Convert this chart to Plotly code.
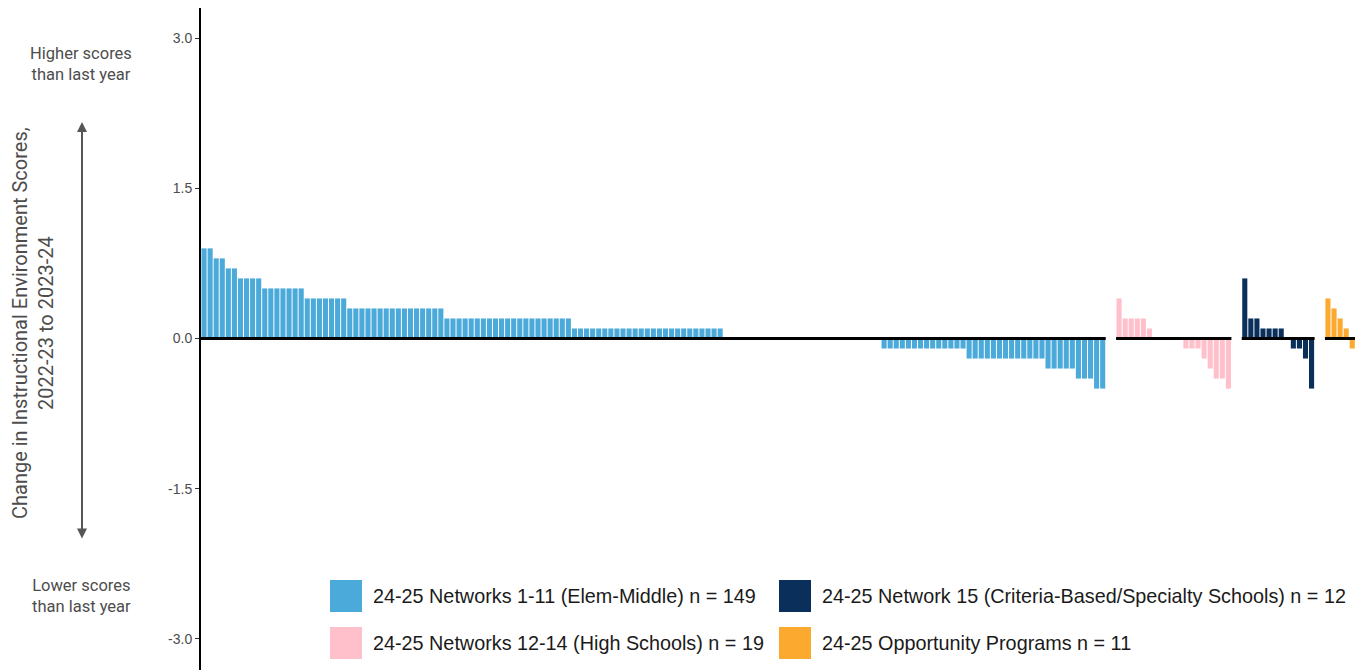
import plotly.graph_objects as go

# ---------------- data ----------------
group_names = [
    "24-25 Networks 1-11 (Elem-Middle) n = 149",
    "24-25 Networks 12-14 (High Schools) n = 19",
    "24-25 Network 15 (Criteria-Based/Specialty Schools) n = 12",
    "24-25 Opportunity Programs n = 11",
]
group_colors = ["#4BAAD9", "#FFC0CB", "#0B2F5B", "#FBAA2F"]

networks_1_11 = [
    0.9, 0.9, 0.8, 0.8, 0.7, 0.7, 0.6, 0.6, 0.6, 0.6,
    0.5, 0.5, 0.5, 0.5, 0.5, 0.5, 0.5,
    0.4, 0.4, 0.4, 0.4, 0.4, 0.4, 0.4,
    0.3, 0.3, 0.3, 0.3, 0.3, 0.3, 0.3, 0.3, 0.3, 0.3, 0.3, 0.3, 0.3, 0.3, 0.3, 0.3,
    0.2, 0.2, 0.2, 0.2, 0.2, 0.2, 0.2, 0.2, 0.2, 0.2, 0.2, 0.2, 0.2, 0.2, 0.2, 0.2,
    0.2, 0.2, 0.2, 0.2, 0.2,
    0.1, 0.1, 0.1, 0.1, 0.1, 0.1, 0.1, 0.1, 0.1, 0.1, 0.1, 0.1, 0.1, 0.1, 0.1, 0.1,
    0.1, 0.1, 0.1, 0.1, 0.1, 0.1, 0.1, 0.1, 0.1,
    0.0, 0.0, 0.0, 0.0, 0.0, 0.0, 0.0, 0.0, 0.0, 0.0, 0.0, 0.0, 0.0, 0.0, 0.0, 0.0,
    0.0, 0.0, 0.0, 0.0, 0.0, 0.0, 0.0, 0.0, 0.0, 0.0,
    -0.1, -0.1, -0.1, -0.1, -0.1, -0.1, -0.1, -0.1, -0.1, -0.1, -0.1, -0.1, -0.1, -0.1,
    -0.2, -0.2, -0.2, -0.2, -0.2, -0.2, -0.2, -0.2, -0.2, -0.2, -0.2, -0.2, -0.2,
    -0.3, -0.3, -0.3, -0.3, -0.3,
    -0.4, -0.4, -0.4,
    -0.5, -0.5,
]
networks_12_14 = [0.4, 0.2, 0.2, 0.2, 0.2, 0.1, 0.0, 0.0, 0.0, 0.0, 0.0,
                  -0.1, -0.1, -0.1, -0.2, -0.3, -0.4, -0.4, -0.5]
network_15 = [0.6, 0.2, 0.2, 0.1, 0.1, 0.1, 0.1, 0.0, -0.1, -0.1, -0.2, -0.5]
opportunity = [0.4, 0.3, 0.2, 0.1, -0.1, -0.1, -0.2, -0.2, -0.3, -0.4, -0.5]

group_values = [networks_1_11, networks_12_14, network_15, opportunity]

y_tick_vals = [-3.0, -1.5, 0.0, 1.5, 3.0]
y_tick_text = ["-3.0", "-1.5", "0.0", "1.5", "3.0"]

y_title = "Change in Instructional Environment Scores,<br>2022-23 to 2023-24"
higher_text = "Higher scores<br>than last year"
lower_text = "Lower scores<br>than last year"

# ---------------- layout constants ----------------
W, H = 1355, 670
ML, MR, MT, MB = 201, 0, 8, 0
PW, PH = W - ML - MR, H - MT - MB
GAP = 1.7


def px(xp):
    """page pixel x -> paper coordinate"""
    return (xp - ML) / PW


def py(yp):
    """page pixel y -> paper coordinate"""
    return (H - MB - yp) / PH


fig = go.Figure()

offset = 0.0
zero_segments = []
for name, color, vals in zip(group_names, group_colors, group_values):
    xs = [offset + i for i in range(len(vals))]
    fig.add_trace(go.Bar(x=xs, y=vals, name=name, marker_color=color,
                         marker_line_width=0, width=0.84, showlegend=False))
    zero_segments.append((xs[0] - 0.5, xs[-1] + 0.5))
    offset = xs[-1] + 1 + GAP

for a, b in zero_segments:
    fig.add_trace(go.Scatter(x=[a, b], y=[0, 0], mode="lines",
                             line=dict(color="black", width=3),
                             showlegend=False, hoverinfo="skip"))

# manual legend (large square keys)
legend_pos = [(330, 580), (330, 627), (779, 580), (779, 627)]
shapes = []
annotations = []
for (lx, ly), name, color in zip(legend_pos, group_names, group_colors):
    shapes.append(dict(type="rect", xref="paper", yref="paper",
                       x0=px(lx), x1=px(lx + 32), y0=py(ly + 32), y1=py(ly),
                       fillcolor=color, line=dict(width=0), layer="above"))
    annotations.append(dict(xref="paper", yref="paper", x=px(lx + 41), y=py(ly + 16),
                            xanchor="left", yanchor="middle", text=name, showarrow=False,
                            font=dict(family="Liberation Sans, Arial", size=19.8, color="#1a1a1a")))

# y title
annotations.append(dict(xref="paper", yref="paper", x=px(33), y=py(323),
                        xanchor="center", yanchor="middle", text=y_title, textangle=-90,
                        showarrow=False,
                        font=dict(family="Liberation Sans Narrow, Roboto", size=20, color="#4d4d4d")))
annotations.append(dict(xref="paper", yref="paper", x=px(81), y=py(64),
                        xanchor="center", yanchor="middle", text=higher_text,
                        showarrow=False,
                        font=dict(family="Roboto, Liberation Sans", size=16.5, color="#4d4d4d")))
annotations.append(dict(xref="paper", yref="paper", x=px(81), y=py(596),
                        xanchor="center", yanchor="middle", text=lower_text,
                        showarrow=False,
                        font=dict(family="Roboto, Liberation Sans", size=16.5, color="#4d4d4d")))
# double arrow
annotations.append(dict(xref="paper", yref="paper", x=px(82), y=py(122),
                        ax=0, ay=540 - 122, axref="pixel", ayref="pixel",
                        text="", showarrow=True, arrowside="end+start",
                        arrowhead=2, startarrowhead=2, arrowsize=1, startarrowsize=1,
                        arrowwidth=2, arrowcolor="#555555", standoff=0, startstandoff=0))

fig.update_layout(
    width=W, height=H,
    margin=dict(l=ML, r=MR, t=MT, b=MB),
    plot_bgcolor="white", paper_bgcolor="white",
    bargap=0.15,
    showlegend=False,
    xaxis=dict(range=[-0.5, -0.5 + PW / 6.072], visible=False, fixedrange=True),
    yaxis=dict(range=[-3.31, 3.30], tickvals=y_tick_vals, ticktext=y_tick_text,
               showline=True, linecolor="black", linewidth=2, ticks="outside",
               ticklen=4, tickcolor="#333333", tickwidth=1, showgrid=False, zeroline=False,
               tickfont=dict(family="Liberation Sans, Arial", size=14, color="#4d4d4d")),
    shapes=shapes,
    annotations=annotations,
)

fig.write_html("out.html", config={"displayModeBar": False},
               post_script="document.body.style.margin='0';document.body.style.overflow='hidden';")
